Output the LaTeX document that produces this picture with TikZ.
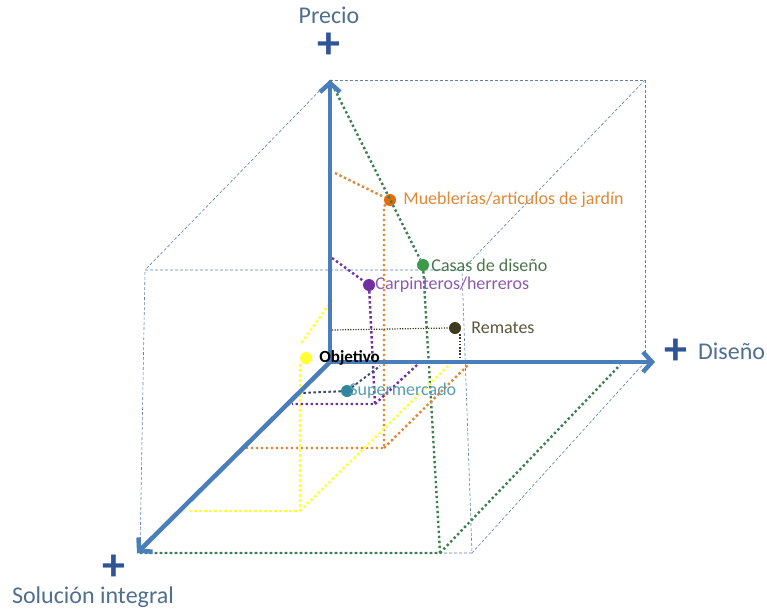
\documentclass[tikz,border=0pt]{standalone}
\usepackage{fontspec}
\setmainfont{Carlito}
\usepackage{xcolor}
\usetikzlibrary{arrows.meta,positioning}

\definecolor{axisblue}{HTML}{4A7EBB}
\definecolor{cubeblue}{HTML}{5F82AA}
\definecolor{labblue}{HTML}{4F6F90}
\definecolor{plusblue}{HTML}{2F5597}
\definecolor{grn}{HTML}{3E7F4F}
\definecolor{grndot}{HTML}{3A9A4A}
\definecolor{org}{HTML}{E0883A}
\definecolor{orgdot}{HTML}{E46C0A}
\definecolor{ylw}{HTML}{FFFF33}
\definecolor{prp}{HTML}{7030A0}
\definecolor{tealc}{HTML}{31859C}
\definecolor{navy}{HTML}{2F4A7F}
\definecolor{brn}{HTML}{3F3A1E}

\begin{document}
\begin{tikzpicture}[
            x=1pt, y=-1pt,
            axis/.style={draw=axisblue, line width=4.5pt, -{Straight Barb[length=9pt,width=20pt]}},
            cube/.style={draw=cubeblue, line width=0.6pt, dash pattern=on 3pt off 2pt},
            proj/.style={line width=2.4pt, dash pattern=on 2.4pt off 2.6pt},
            pt/.style={circle, inner sep=0pt, minimum size=12pt},
            lab/.style={font=\fontsize{18}{21}\selectfont, inner sep=1pt},
            axislab/.style={font=\fontsize{24}{28}\selectfont, text=labblue, inner sep=1pt},
            plus/.style={font=\fontsize{46}{46}\selectfont\bfseries, text=plusblue, inner sep=0pt}
        ]
        \useasboundingbox (0,0) rectangle (767,611);

        % Axes corners
        \coordinate (O) at (330,362);
        \coordinate (top) at (330,80);
        \coordinate (right) at (655,362);
        \coordinate (front) at (137,553);

        % Cube
        \coordinate (b2) at (645,80);
        \coordinate (b3) at (645,362);
        \coordinate (f1) at (145,270);
        \coordinate (f2) at (462,270);
        \coordinate (f3) at (472,553);
        \coordinate (f4) at (140,553);
        \path [cube] (top) -- (b2) -- (b3);
        \path [cube] (f1) -- (f2) -- (f3) -- (f4) -- cycle;
        \path [cube] (top) -- (f1);
        \path [cube] (b2) -- (f2);
        \path [cube] (b3) -- (f3);

        % Points
        \node [pt, fill=orgdot] (mueb) at (390,200) {};
        \node [pt, fill=grndot] (casas) at (423,265) {};
        \node [pt, fill=prp] (carp) at (369,285) {};
        \node [pt, fill=brn] (rem) at (455,328) {};
        \node [pt, fill=ylw] (obj) at (306,358) {};
        \node [pt, fill=tealc] (super) at (347,391) {};

        % Projection corners
        \coordinate (g1) at (440,553);
        \coordinate (g2) at (620,365);
        \coordinate (o0) at (335,173);
        \coordinate (o1) at (384,448);
        \coordinate (o2) at (245,448);
        \coordinate (o3) at (468,365);
        \coordinate (y0) at (332,300);
        \coordinate (y1) at (300,345);
        \coordinate (y2) at (300,511);
        \coordinate (y3) at (190,511);
        \coordinate (y4) at (450,364);
        \coordinate (p0) at (332,258);
        \coordinate (p1) at (375,404);
        \coordinate (p2) at (292,404);
        \coordinate (p3) at (417,365);
        \coordinate (s1) at (300,393);
        \coordinate (s2) at (380,366);
        \coordinate (r0) at (332,330);
        \coordinate (r1) at (460,361);

        % Projections
        \path [proj, draw=grn] (top) -- (casas) -- (g1) -- (front);
        \path [proj, draw=grn] (g1) -- (g2);
        \path [proj, draw=org] (o0) -- (mueb) -- (o1 |- mueb.south) -- (o1) -- (o2);
        \path [proj, draw=org] (o1) -- (o3);
        \path [proj, draw=ylw] (y0) -- (y1);
        \path [proj, draw=ylw] (obj.south -| y2) -- (y2) -- (y3);
        \path [proj, draw=ylw] (y2) -- (y4);
        \path [proj, draw=prp] (p0) -- (carp) -- (p1) -- (p2);
        \path [proj, draw=prp] (p1) -- (p3);
        \path [proj, draw=navy, line width=2pt] (super) -- (s1);
        \path [proj, draw=navy, line width=2pt] (super) -- (s2);
        \path [draw=brn, line width=1.2pt, dash pattern=on 1.2pt off 1.4pt] (r0) -- (rem.west);
        \path [draw=brn, line width=1.6pt, dash pattern=on 1.6pt off 1.6pt] (rem.south -| r1) -- (r1);

        % Axes
        \path [axis] (O) -- (top);
        \path [axis] (O) -- (right);
        \path [axis] (O) -- (front);

        % Axis labels
        \node [plus] (plustop) at (329,46) {+};
        \node [axislab] (precio) at (329,15) {Precio};
        \node [plus] (plusright) at (676,352) {+};
        \node [axislab, anchor=west] (diseno) at (697,351) {Diseño};
        \node [plus] (plusfront) at (114,568) {+};
        \node [axislab] (solucion) at (93,597) {Solución integral};

        % Point labels
        \node [lab, text=org, right=6pt of mueb] {Mueblerías/artículos de jardín};
        \node [lab, text=black!60!green!40!gray, right=1pt of casas] {Casas de diseño};
        \node [lab, text=prp!80, right=-1pt of carp] {Carpinteros/herreros};
        \node [lab, text=brn!85, right=9pt of rem] {Remates};
        \node [lab, font=\fontsize{17}{20}\selectfont\bfseries, right=6pt of obj] {Objetivo};
        \node [lab, text=tealc!80!white, right=-5pt of super] {Supermercado};

    \end{tikzpicture}
\end{document}
